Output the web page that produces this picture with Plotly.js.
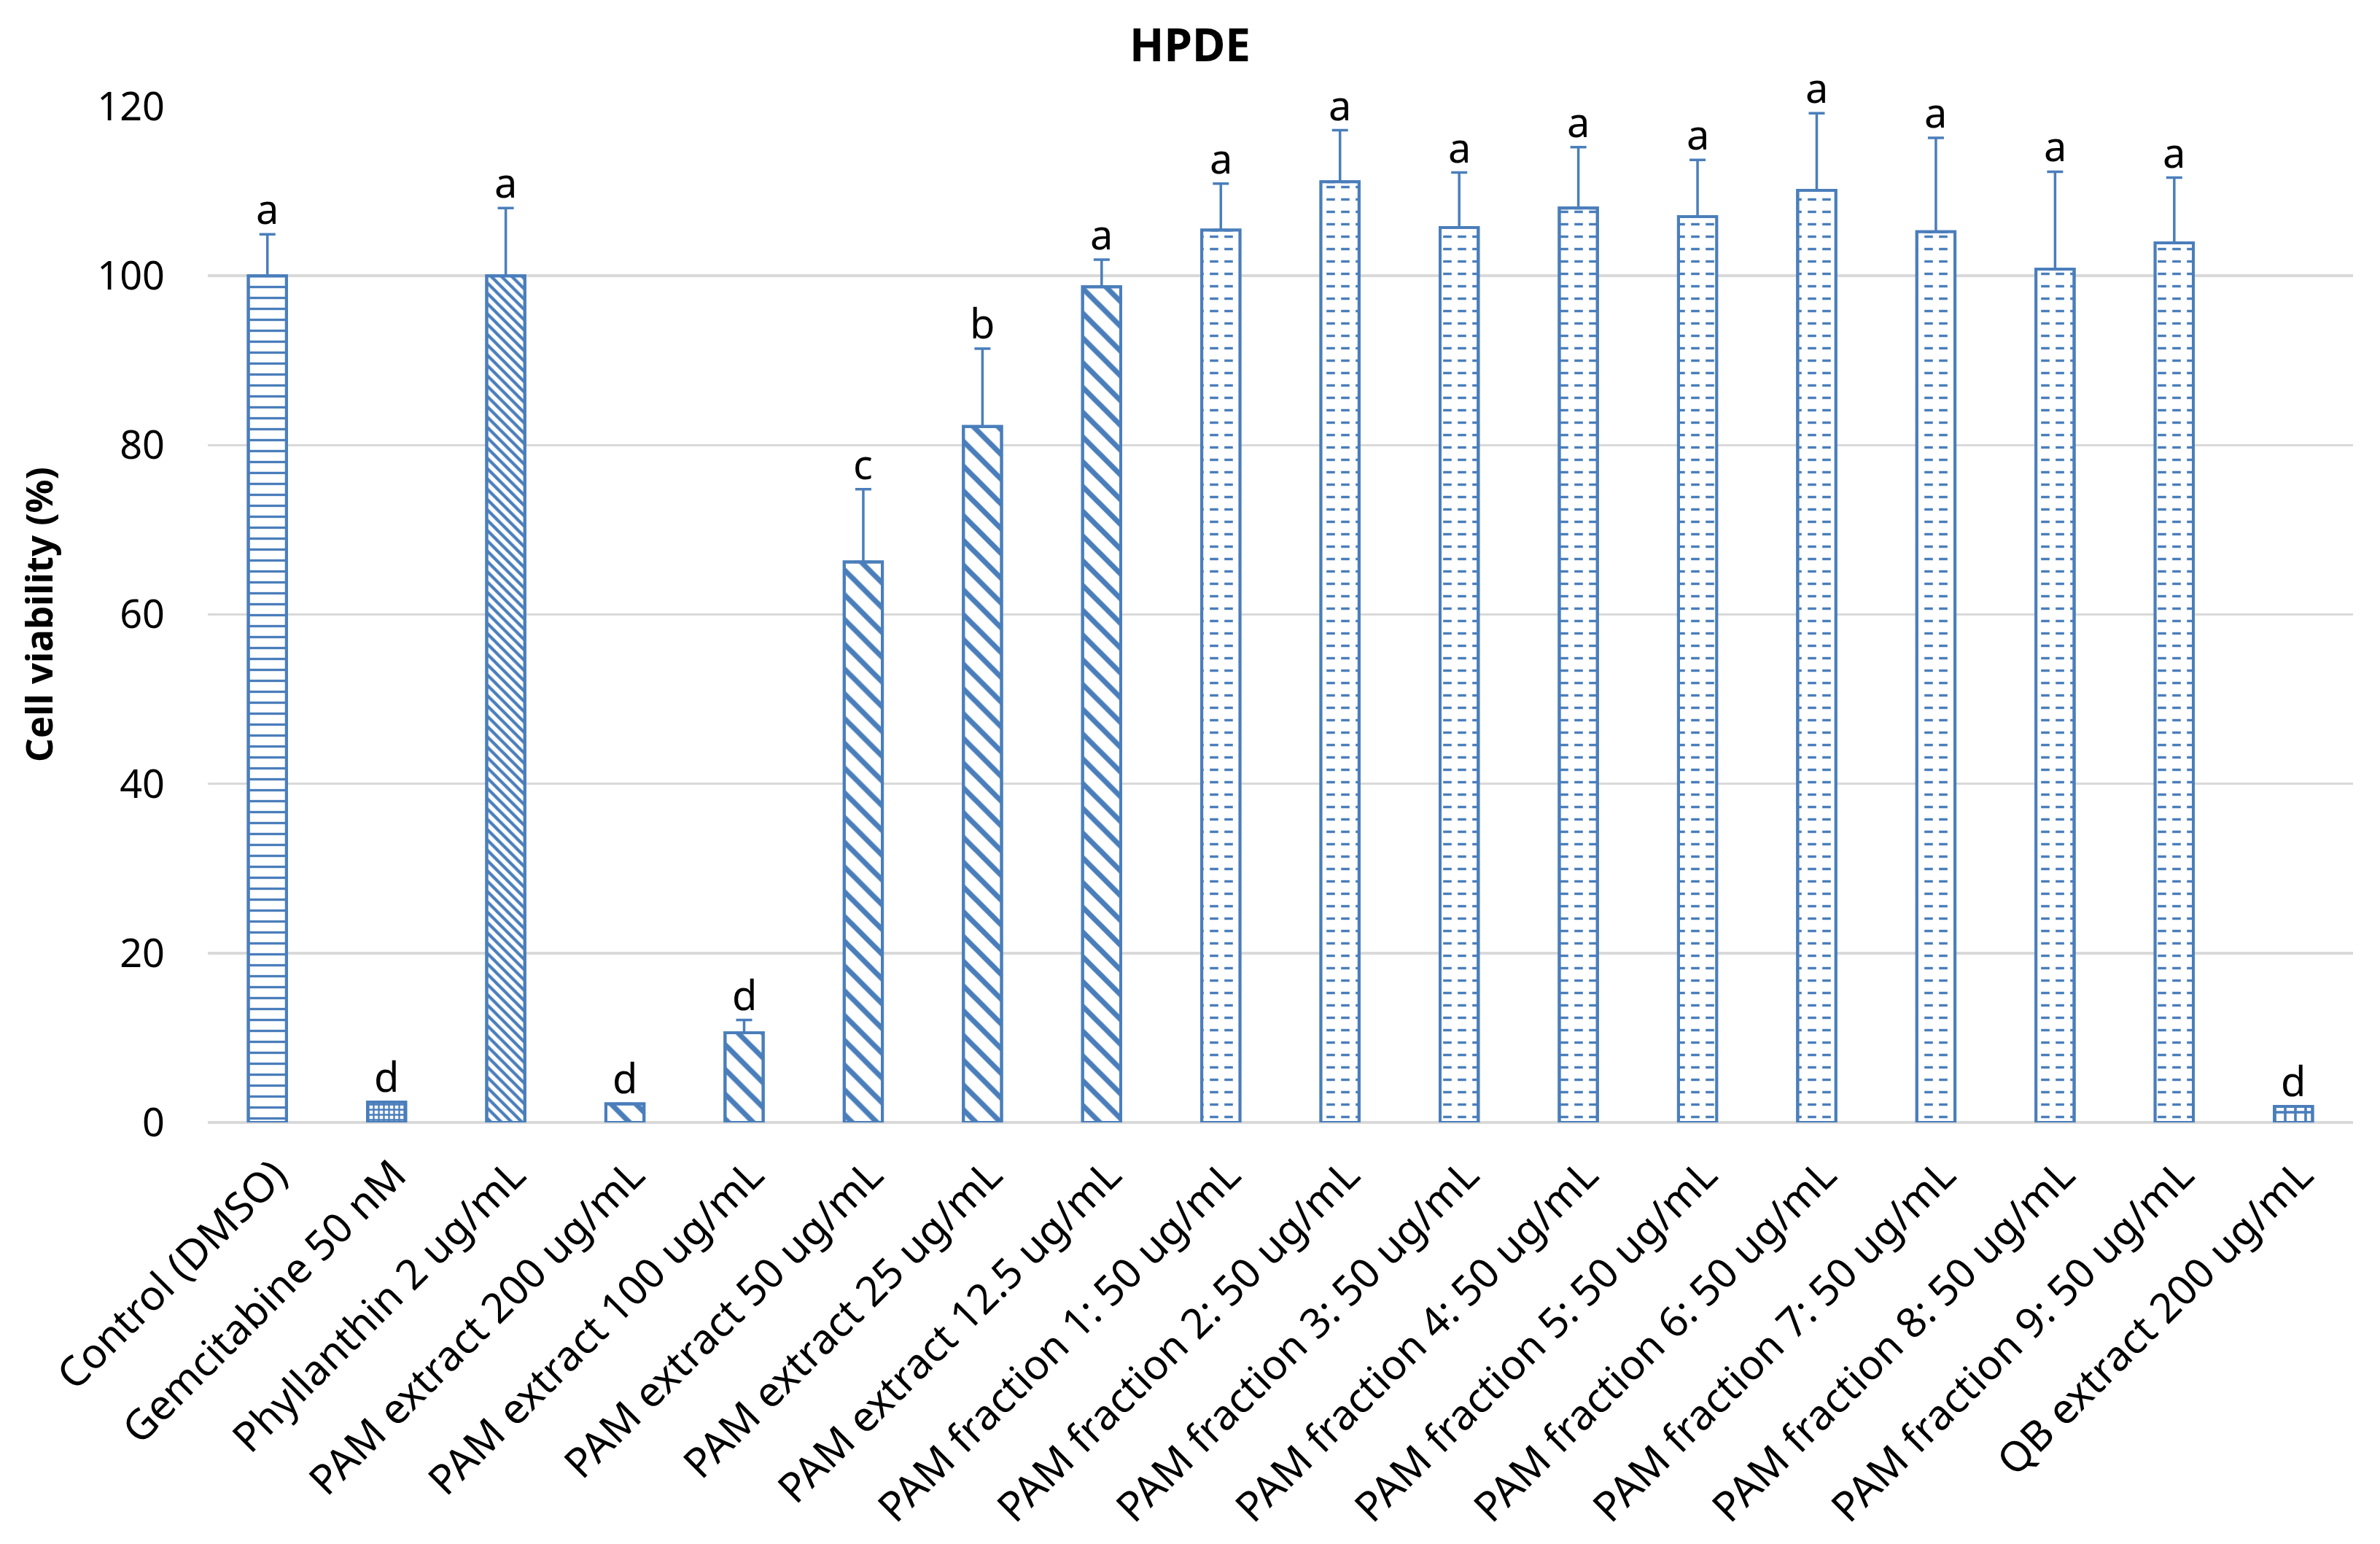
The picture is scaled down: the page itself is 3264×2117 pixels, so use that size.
<!DOCTYPE html>
<html>
<head>
<meta charset="utf-8">
<script src="https://cdn.plot.ly/plotly-3.0.1.min.js"></script>
<style>html,body{margin:0;padding:0;background:#fff;}#chart{width:3264px;height:2117px;}</style>
</head>
<body>
<div id="chart"></div>
<script>
// ---- data ----
const categories = [
  "Control (DMSO)", "Gemcitabine 50 nM", "Phyllanthin 2 ug/mL",
  "PAM extract 200 ug/mL", "PAM extract 100 ug/mL", "PAM extract 50 ug/mL",
  "PAM extract 25 ug/mL", "PAM extract 12.5 ug/mL",
  "PAM fraction 1: 50 ug/mL", "PAM fraction 2: 50 ug/mL", "PAM fraction 3: 50 ug/mL",
  "PAM fraction 4: 50 ug/mL", "PAM fraction 5: 50 ug/mL", "PAM fraction 6: 50 ug/mL",
  "PAM fraction 7: 50 ug/mL", "PAM fraction 8: 50 ug/mL", "PAM fraction 9: 50 ug/mL",
  "QB extract 200 ug/mL"
];
const viability = [100, 2.4, 100, 2.2, 10.6, 66.2, 82.2, 98.7, 105.4, 111.1, 105.7, 108.0, 107.0, 110.1, 105.2, 100.8, 103.9, 1.9];
const errorPlus = [4.9, 0, 8.0, 0, 1.5, 8.6, 9.2, 3.2, 5.5, 6.1, 6.5, 7.2, 6.7, 9.1, 11.1, 11.5, 7.7, 0];
const letters = ["a", "d", "a", "d", "d", "c", "b", "a", "a", "a", "a", "a", "a", "a", "a", "a", "a", "d"];
const treatmentGroup = ["control", "gemcitabine", "phyllanthin", "extract", "extract", "extract", "extract", "extract",
  "fraction", "fraction", "fraction", "fraction", "fraction", "fraction", "fraction", "fraction", "fraction", "qb"];
const yTicks = [0, 20, 40, 60, 80, 100, 120];

// ---- styles ----
const BLUE = "#4a7ebb";
const patternStyle = {
  control:     {shape: "-",  size: 15, solidity: 0.22},
  gemcitabine: {shape: "+",  size: 7,  solidity: 0.55},
  phyllanthin: {shape: "\\", size: 10, solidity: 0.42},
  extract:     {shape: "\\", size: 24, solidity: 0.30},
  fraction:    {shape: "-",  size: 17, solidity: 0.2},
  qb:          {shape: "+",  size: 14, solidity: 0.45}
};
const shapes = treatmentGroup.map(g => patternStyle[g].shape);
const sizes = treatmentGroup.map(g => patternStyle[g].size);
const solids = treatmentGroup.map(g => patternStyle[g].solidity);
// white vertical cuts turn the fraction lines into dashes
const cutShapes = treatmentGroup.map(g => g === "fraction" ? "|" : "");

const FONT = "Noto Sans, Open Sans, DejaVu Sans, sans-serif";

const barTrace = {
  type: "bar",
  x: categories,
  y: viability,
  marker: {
    color: BLUE,
    line: {color: BLUE, width: 4},
    pattern: {shape: shapes, size: sizes, solidity: solids, fgcolor: BLUE, bgcolor: "rgba(255,255,255,1)", fillmode: "replace"}
  },
  hoverinfo: "x+y",
  showlegend: false
};

const cutTrace = {
  type: "bar",
  x: categories,
  y: viability,
  marker: {
    color: "rgba(0,0,0,0)",
    line: {color: BLUE, width: 4},
    pattern: {shape: cutShapes, size: 20, solidity: 0.42, fgcolor: "#ffffff", bgcolor: "rgba(0,0,0,0)", fillmode: "replace"}
  },
  error_y: {
    type: "data",
    symmetric: false,
    array: errorPlus,
    arrayminus: viability.map(() => 0),
    color: BLUE,
    thickness: 3.5,
    width: 11
  },
  hoverinfo: "skip",
  showlegend: false
};

const annotations = categories.map((c, i) => ({
  x: c,
  y: viability[i] + errorPlus[i],
  xref: "x",
  yref: "y",
  text: letters[i],
  showarrow: false,
  yanchor: "bottom",
  yshift: -4,
  font: {family: FONT, size: 56, color: "#000"}
}));

const layout = {
  width: 3264,
  height: 2117,
  paper_bgcolor: "#fff",
  plot_bgcolor: "#fff",
  barmode: "overlay",
  bargap: 0.68,
  margin: {l: 285, r: 37, t: 146, b: 578},
  font: {family: FONT, color: "#000"},
  title: {
    text: "<b>HPDE</b>",
    font: {family: FONT, size: 62, color: "#000"},
    x: 0.5, xref: "container", xanchor: "center",
    y: 1 - 62 / 2117, yref: "container", yanchor: "middle"
  },
  xaxis: {
    type: "category",
    tickangle: -45,
    tickfont: {family: FONT, size: 57, color: "#000"},
    showgrid: false,
    showline: false,
    ticks: "",
    ticklabelstandoff: 26,
    ticklabelshift: 10
  },
  yaxis: {
    range: [0, 120],
    tickvals: yTicks,
    tickfont: {family: FONT, size: 54, color: "#000"},
    showgrid: true,
    gridcolor: "#d9d9d9",
    gridwidth: 3.5,
    zeroline: true,
    zerolinecolor: "#d9d9d9",
    zerolinewidth: 4,
    ticks: "",
    ticklabelstandoff: 58,
    title: {
      text: "<b>Cell viability (%)</b>",
      font: {family: FONT, size: 51, color: "#000"},
      standoff: 44
    }
  },
  annotations: annotations
};

Plotly.newPlot("chart", [barTrace, cutTrace], layout, {staticPlot: true});
</script>
</body>
</html>
